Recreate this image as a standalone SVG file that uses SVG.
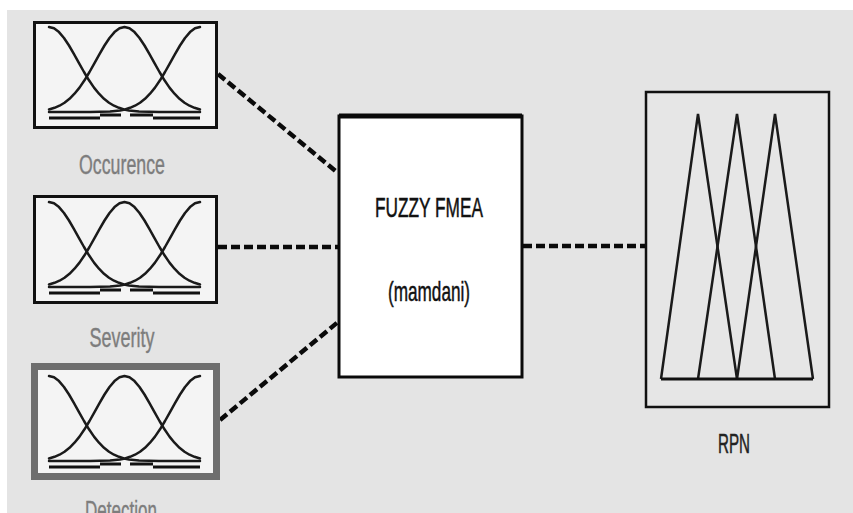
<svg xmlns="http://www.w3.org/2000/svg" xmlns:xlink="http://www.w3.org/1999/xlink" width="853" height="513" viewBox="0 0 853 513">
<style>
.curve{fill:none;stroke:#1a1a1a;stroke-width:2.5;stroke-linejoin:round;stroke-linecap:round}
.base{fill:none;stroke:#111;stroke-width:3}
.inbox{fill:#f4f4f4;stroke:#111;stroke-width:3}
.label{font-family:"Liberation Sans",Arial,sans-serif;font-size:27px;fill:#7d7d7d;stroke:#7d7d7d;stroke-width:0.4;text-anchor:middle}
.title{font-family:"Liberation Sans",Arial,sans-serif;font-size:28px;fill:#111;stroke:#111;stroke-width:0.5;text-anchor:middle}
.conn{fill:none;stroke:#0a0a0a;stroke-width:4.5;stroke-dasharray:9 4}
.tri{fill:none;stroke:#1a1a1a;stroke-width:2.5;stroke-linejoin:miter}
</style>
<defs>
<g id="mf">
<path class="curve" d="M0,0 L5,1.3 L10,5.1 L15,11 L20,18.5 L25,27.1 L30,36.1 L35,45 L40,53.3 L45,60.6 L50,66.7 L55,71.8 L60,75.7 L65,78.7 L70,80.8 L75,82.4 L80,83.4 L90,84.4 L100,84.8 L110,85 L151,85"/>
<path class="curve" d="M0,82.5 L5.5,80.8 L10.5,78.7 L15.5,75.7 L20.5,71.8 L25.5,66.7 L30.5,60.6 L35.5,53.3 L40.5,45 L45.5,36.1 L50.5,27.1 L55.5,18.5 L60.5,11 L65.5,5.1 L70.5,1.3 L75.5,0 L80.5,1.3 L85.5,5.1 L90.5,11 L95.5,18.5 L100.5,27.1 L105.5,36.1 L110.5,45 L115.5,53.3 L120.5,60.6 L125.5,66.7 L130.5,71.8 L135.5,75.7 L140.5,78.7 L145.5,80.8 L151,82.5"/>
<path class="curve" d="M151,0 L146,1.3 L141,5.1 L136,11 L131,18.5 L126,27.1 L121,36.1 L116,45 L111,53.3 L106,60.6 L101,66.7 L96,71.8 L91,75.7 L86,78.7 L81,80.8 L76,82.4 L71,83.4 L61,84.4 L51,84.8 L41,85 L0,85"/>
<path class="base" d="M0,91 H51 M104,91 H151 M51,88 H72 M81,88 H104"/>
</g>
</defs>
<rect x="0" y="0" width="853" height="513" fill="#ffffff"/>
<rect x="7" y="10" width="846" height="503" fill="#e4e4e4"/>

<g id="connectors">
<path class="conn" d="M218,74 L338,173"/>
<path class="conn" d="M218,247 L338,247"/>
<path class="conn" d="M220,420 L338,322"/>
<path class="conn" d="M523,246 L646,246"/>
</g>

<g id="occurence">
<rect class="inbox" x="34.5" y="22.5" width="182" height="105"/>
<use xlink:href="#mf" transform="translate(49,27)"/>
<text class="label" x="122" y="174" textLength="86" lengthAdjust="spacingAndGlyphs">Occurence</text>
</g>

<g id="severity">
<rect class="inbox" x="34.5" y="196.5" width="182" height="106"/>
<use xlink:href="#mf" transform="translate(49,202)"/>
<text class="label" x="122" y="347" textLength="65" lengthAdjust="spacingAndGlyphs">Severity</text>
</g>

<g id="detection">
<rect x="34.5" y="366.5" width="182" height="110" fill="#f4f4f4" stroke="#6e6e6e" stroke-width="7"/>
<use xlink:href="#mf" transform="translate(49,376)"/>
<text class="label" x="121" y="520" textLength="72" lengthAdjust="spacingAndGlyphs">Detection</text>
</g>

<g id="fuzzy-fmea">
<rect x="339" y="116" width="183" height="261" fill="#ffffff" stroke="#0a0a0a" stroke-width="3"/>
<line x1="339" y1="116" x2="522" y2="116" stroke="#0a0a0a" stroke-width="5"/>
<text class="title" x="429" y="217" textLength="108" lengthAdjust="spacingAndGlyphs">FUZZY FMEA</text>
<text class="title" x="429" y="301" textLength="82" lengthAdjust="spacingAndGlyphs">(mamdani)</text>
</g>

<g id="rpn">
<rect x="646" y="92" width="183" height="315" fill="#e6e6e6" stroke="#111" stroke-width="2.5"/>
<path class="tri" d="M661,379 L698,114 L737,379"/>
<path class="tri" d="M698,379 L737,114 L775,379"/>
<path class="tri" d="M737,379 L775,114 L813,379"/>
<line x1="661" y1="379" x2="813" y2="379" stroke="#111" stroke-width="3"/>
<text class="title" x="734" y="453" style="fill:#222;stroke:#222" textLength="32" lengthAdjust="spacingAndGlyphs">RPN</text>
</g>
</svg>
